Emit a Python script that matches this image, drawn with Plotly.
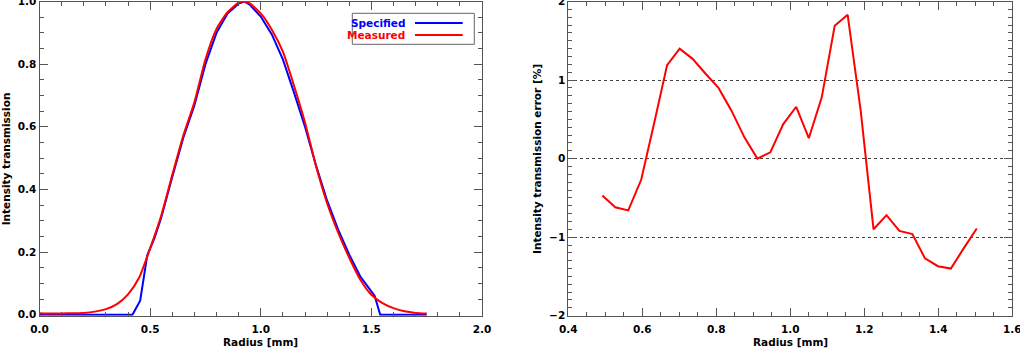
import plotly.graph_objects as go

W, H = 1020, 349

# left panel: intensity transmission profiles
radius_meas = [0.00, 0.05, 0.10, 0.15, 0.20, 0.25, 0.30, 0.35, 0.40, 0.45, 0.50, 0.55,
               0.60, 0.65, 0.70, 0.75, 0.80, 0.85, 0.90, 0.925, 0.95, 1.00, 1.05, 1.10,
               1.15, 1.20, 1.25, 1.30, 1.35, 1.40, 1.45, 1.50, 1.55, 1.60, 1.65, 1.70, 1.75]
measured = [0.005, 0.004, 0.004, 0.005, 0.006, 0.010, 0.018, 0.034, 0.065, 0.118, 0.212, 0.316,
            0.446, 0.572, 0.678, 0.815, 0.912, 0.966, 0.996, 1.000, 0.994, 0.962, 0.910, 0.840,
            0.732, 0.614, 0.474, 0.356, 0.262, 0.182, 0.112, 0.064, 0.037, 0.021, 0.011, 0.006, 0.004]

radius_spec = [0.00, 0.42, 0.455, 0.487, 0.52, 0.55, 0.60, 0.65, 0.70, 0.75, 0.80, 0.85,
               0.90, 0.925, 0.95, 1.00, 1.05, 1.10, 1.15, 1.20, 1.25, 1.30, 1.35, 1.40,
               1.45, 1.515, 1.54, 1.75]
specified = [0.0, 0.0, 0.045, 0.19, 0.245, 0.31, 0.44, 0.565, 0.668, 0.80, 0.90, 0.962,
             0.993, 1.0, 0.99, 0.952, 0.895, 0.815, 0.710, 0.600, 0.476, 0.364, 0.272, 0.192,
             0.122, 0.060, 0.0, 0.0]

# right panel: transmission error in percent
radius_err = [0.492, 0.527, 0.562, 0.597, 0.632, 0.667, 0.701, 0.736, 0.771, 0.806,
              0.841, 0.876, 0.911, 0.946, 0.981, 1.016, 1.050, 1.085, 1.120, 1.155,
              1.190, 1.225, 1.260, 1.295, 1.330, 1.364, 1.399, 1.434, 1.469, 1.504]
error_pct = [-0.47, -0.62, -0.66, -0.27, 0.45, 1.19, 1.40, 1.27, 1.08, 0.90,
             0.61, 0.27, 0.0, 0.08, 0.44, 0.66, 0.26, 0.78, 1.69, 1.83,
             0.62, -0.90, -0.72, -0.92, -0.96, -1.27, -1.37, -1.40, -1.14, -0.89]

names = ["Specified", "Measured"]
colors = ["#0000ff", "#ff0000"]


def px(x):
    return x / W


def py(y):
    return 1 - y / H


fig = go.Figure()
fig.add_trace(go.Scatter(x=radius_spec, y=specified, mode="lines", name=names[0],
                         line=dict(color=colors[0], width=2), xaxis="x", yaxis="y"))
fig.add_trace(go.Scatter(x=radius_meas, y=measured, mode="lines", name=names[1],
                         line=dict(color=colors[1], width=2, shape="spline", smoothing=0.6),
                         xaxis="x", yaxis="y"))
fig.add_trace(go.Scatter(x=radius_err, y=error_pct, mode="lines",
                         line=dict(color="#ff0000", width=2), xaxis="x2", yaxis="y2"))

FONT = "DejaVu Sans"
frame = "#555555"
tickfont = dict(family=FONT, size=10.5, color="black", weight="bold")


def axis(rng, dtick, mdtick, fmt, domain, anchor, **kw):
    d = dict(range=rng, dtick=dtick, tick0=0, tickformat=fmt, domain=domain, anchor=anchor,
             showline=True, linecolor=frame, linewidth=1, mirror="ticks",
             ticks="inside", ticklen=8, tickcolor=frame, tickwidth=1,
             minor=dict(dtick=mdtick, ticks="inside", ticklen=4, tickcolor=frame, showgrid=False),
             showgrid=False, zeroline=False, tickfont=tickfont, automargin=False,
             ticklabeloverflow="allow", fixedrange=True)
    d.update(kw)
    return d


ydom = [py(315.7), py(1.5)]
fig.update_layout(
    width=W, height=H,
    margin=dict(l=0, r=0, t=0, b=0),
    paper_bgcolor="white", plot_bgcolor="white",
    showlegend=False,
    xaxis=axis([0, 2], 0.5, 0.1, ".1f", [px(39.5), px(482)], "y", ticklabelstandoff=4),
    yaxis=axis([-0.003, 1.0], 0.2, 0.05, ".1f", ydom, "x"),
    xaxis2=axis([0.4, 1.6], 0.2, 0.05, ".1f", [px(568.3), px(1012.3)], "y2", ticklabelstandoff=4),
    yaxis2=axis([-2, 2], 1, 0.1, "d", ydom, "x2",
                showgrid=True, gridcolor="#444444", griddash="dot", gridwidth=1),
)

titlefont = dict(family=FONT, size=10.5, color="black", weight="bold")
ann = [
    dict(x=px(260.75), y=py(342), text="Radius [mm]"),
    dict(x=px(790.3), y=py(342), text="Radius [mm]"),
    dict(x=px(6.3), y=py(159), text="Intensity transmission", textangle=-90),
    dict(x=px(537), y=py(159), text="Intensity transmission error [%]", textangle=-90),
]
for a in ann:
    fig.add_annotation(xref="paper", yref="paper", showarrow=False, font=titlefont,
                       xanchor="center", yanchor="middle", **a)

# legend box drawn IDL style: label on the left, line sample on the right
fig.add_shape(type="rect", xref="paper", yref="paper",
              x0=px(352.3), x1=px(474.3), y0=py(44.3), y1=py(13.3),
              line=dict(color="#666666", width=1), fillcolor="white", layer="above")
for i, (nm, col) in enumerate(zip(names, colors)):
    yy = 23 + 12 * i
    fig.add_annotation(xref="paper", yref="paper", x=px(407), y=py(yy), text=nm,
                       showarrow=False, xanchor="right", yanchor="middle",
                       font=dict(family=FONT, size=10.5, color=col, weight="bold"))
    fig.add_shape(type="line", xref="paper", yref="paper",
                  x0=px(415), x1=px(462.7), y0=py(yy), y1=py(yy),
                  line=dict(color=col, width=2))

# the page body has a default 8px margin; drop it so the figure fills the window
fig.write_html("out.html", config={"displayModeBar": False},
               post_script="document.body.style.margin='0';")
